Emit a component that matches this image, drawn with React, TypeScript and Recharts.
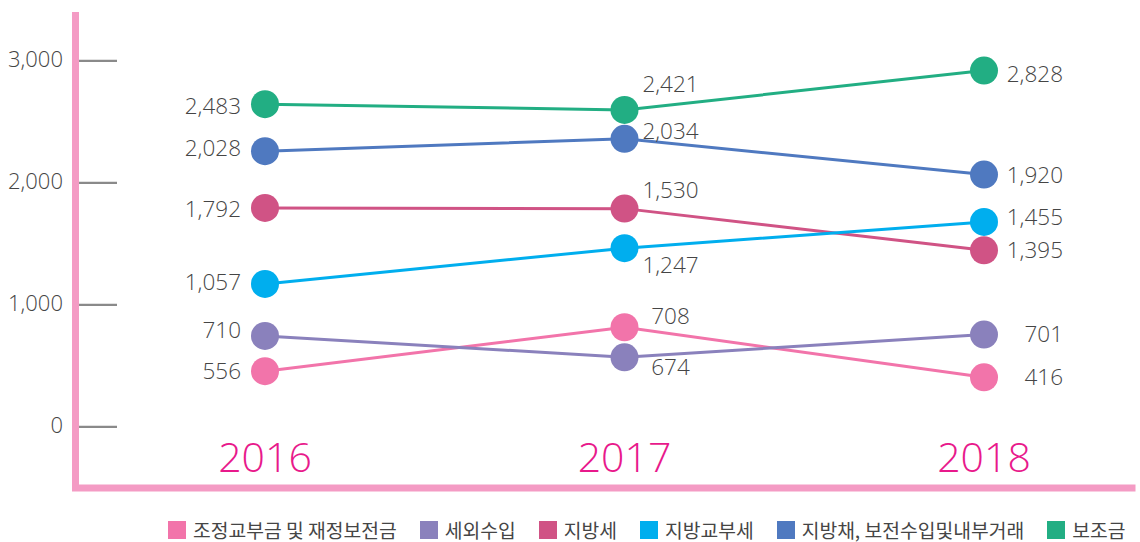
import React from 'react';
import { LineChart, Line, XAxis, YAxis, LabelList } from 'recharts';

// categories
const YEARS = ['2016', '2017', '2018'];
const Y_TICKS = [0, 1000, 2000, 3000];

// series values as drawn (marker positions)
const ADJUST = [457, 817, 407]; // 조정교부금 및 재정보전금
const NON_TAX = [746, 571, 757]; // 세외수입
const LOCAL_TAX = [1795, 1789, 1448]; // 지방세
const GRANT_TAX = [1172, 1465, 1680]; // 지방교부세
const LOCAL_BOND = [2260, 2361, 2068]; // 지방채, 보전수입및내부거래
const SUBSIDY = [2645, 2598, 2920]; // 보조금

// printed value labels
const ADJUST_LABELS = ['556', '708', '416'];
const NON_TAX_LABELS = ['710', '674', '701'];
const LOCAL_TAX_LABELS = ['1,792', '1,530', '1,395'];
const GRANT_TAX_LABELS = ['1,057', '1,247', '1,455'];
const LOCAL_BOND_LABELS = ['2,028', '2,034', '1,920'];
const SUBSIDY_LABELS = ['2,483', '2,421', '2,828'];

const NUM_FONT = "'Open Sans', 'Noto Sans', sans-serif";
const KR_FONT = "'Noto Sans CJK KR', 'Noto Sans', sans-serif";
const TEXT = '#454545';

type Series = {
  key: string;
  name: string;
  color: string;
  values: number[];
  labels: string[];
  dy: number[];
};

const SERIES: Series[] = [
  { key: 'adjust', name: '조정교부금 및 재정보전금', color: '#F274AA', values: ADJUST, labels: ADJUST_LABELS, dy: [0, -11, 0] },
  { key: 'nonTax', name: '세외수입', color: '#8A81BC', values: NON_TAX, labels: NON_TAX_LABELS, dy: [-6, 10, -1] },
  { key: 'localTax', name: '지방세', color: '#D05385', values: LOCAL_TAX, labels: LOCAL_TAX_LABELS, dy: [1, -19, 0] },
  { key: 'grantTax', name: '지방교부세', color: '#00AEEE', values: GRANT_TAX, labels: GRANT_TAX_LABELS, dy: [-2, 17, -5] },
  { key: 'localBond', name: '지방채, 보전수입및내부거래', color: '#4F79C0', values: LOCAL_BOND, labels: LOCAL_BOND_LABELS, dy: [-3, -8, 0] },
  { key: 'subsidy', name: '보조금', color: '#22AE83', values: SUBSIDY, labels: SUBSIDY_LABELS, dy: [2, -26, 3] },
];

const data = YEARS.map((year, i) => {
  const row: Record<string, string | number> = { year };
  SERIES.forEach((s) => {
    row[s.key] = s.values[i];
  });
  return row;
});

const LABEL_DX = [-24, 46, 79];
const LABEL_ANCHOR = ['end', 'middle', 'end'];

const makeLabel = (s: Series) => (props: any) => {
  const { x, y, index } = props;
  if (x == null || y == null) return null;
  const i = index ?? 0;
  return (
    <text
      x={Number(x) + LABEL_DX[i]}
      y={Number(y) + s.dy[i] + 8}
      textAnchor={LABEL_ANCHOR[i] as any}
      fontFamily={NUM_FONT}
      fontWeight={300}
      fontSize={22.5}
      fill={TEXT}
    >
      {s.labels[i]}
    </text>
  );
};

const YTick = (props: any) => {
  const { x, y, payload } = props;
  return (
    <g>
      <line x1={x + 3.5} x2={x + 41.5} y1={y} y2={y} stroke="#8a8a8a" strokeWidth={2.2} />
      <text x={x - 12.5} y={y + 6} textAnchor="end" fontFamily={NUM_FONT} fontWeight={300} fontSize={22} fill={TEXT}>
        {payload.value.toLocaleString('en-US')}
      </text>
    </g>
  );
};

const XTick = (props: any) => {
  const { x, y, payload } = props;
  return (
    <text x={x} y={y - 16} textAnchor="middle" fontFamily={NUM_FONT} fontWeight={300} fontSize={41} fill="#E8198B">
      {payload.value}
    </text>
  );
};

export default function App() {
  return (
    <div style={{ position: 'absolute', left: 0, top: 0, width: 1140, height: 542, background: '#fff' }}>
      <LineChart width={1140} height={542} data={data} margin={{ top: 12, right: 8, bottom: 24, left: 0 }}>
        <XAxis
          dataKey="year"
          scale="point"
          padding={{ left: 189.5, right: 148 }}
          height={30}
          tickLine={false}
          tickSize={0}
          tickMargin={0}
          axisLine={{ stroke: '#F49BC4', strokeWidth: 7, strokeLinecap: 'square' } as any}
          tick={<XTick />}
          interval={0}
        />
        <YAxis
          type="number"
          domain={[-500, 3400]}
          ticks={Y_TICKS}
          width={75.5}
          tickLine={false}
          tickSize={0}
          tickMargin={0}
          axisLine={{ stroke: '#F49BC4', strokeWidth: 7 }}
          tick={<YTick />}
          interval={0}
          allowDataOverflow
        />
        {SERIES.map((s) => (
          <Line
            key={s.key}
            dataKey={s.key}
            name={s.name}
            stroke={s.color}
            strokeWidth={3}
            dot={{ r: 14, fill: s.color, stroke: s.color, strokeWidth: 0 }}
            activeDot={false}
            isAnimationActive={false}
          >
            <LabelList dataKey={s.key} content={makeLabel(s)} />
          </Line>
        ))}
      </LineChart>
      <div
        style={{
          position: 'absolute',
          left: 168,
          top: 521,
          display: 'flex',
          alignItems: 'center',
          fontFamily: KR_FONT,
          fontSize: 19.3,
          color: TEXT,
          whiteSpace: 'nowrap',
        }}
      >
        {SERIES.map((s, i) => (
          <div key={s.key} style={{ display: 'flex', alignItems: 'center', marginRight: i < SERIES.length - 1 ? 23 : 0 }}>
            <span style={{ display: 'inline-block', width: 18, height: 18, background: s.color, marginRight: 7 }} />
            <span style={{ lineHeight: '18px' }}>{s.name}</span>
          </div>
        ))}
      </div>
    </div>
  );
}
